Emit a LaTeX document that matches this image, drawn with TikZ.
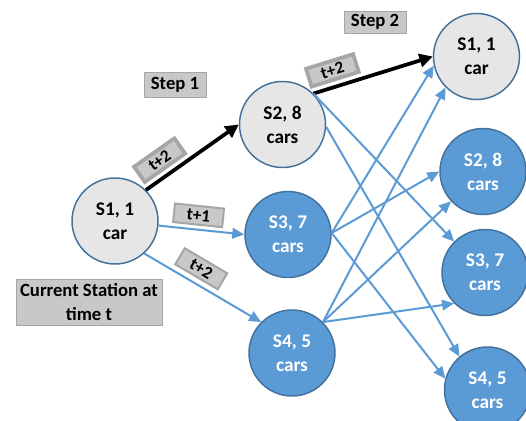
\documentclass[tikz,border=0pt]{standalone}
\usepackage{fontspec}
\setmainfont{Carlito}
\usetikzlibrary{arrows.meta}
\definecolor{stblue}{HTML}{5B9BD5}
\definecolor{strim}{HTML}{41719C}
\definecolor{stgrey}{HTML}{E7E6E6}
\definecolor{tagfill}{HTML}{C8C8C8}
\definecolor{tagrim}{HTML}{A6A6A6}

\begin{document}
\begin{tikzpicture}[x=0.75pt, y=-0.75pt,
    station/.style={circle, draw=strim, line width=1.1pt, minimum size=64.5pt, inner sep=0pt,
        align=center, font=\fontsize{14.5}{18}\selectfont\bfseries},
    idle/.style={station, fill=stgrey, text=black},
    busy/.style={station, fill=stblue, text=white},
    tag/.style={draw=tagrim, fill=tagfill, inner sep=0pt, align=center,
        font=\fontsize{14}{18.5}\selectfont\bfseries},
    hoptag/.style={tag, minimum width=37pt, minimum height=14pt, font=\fontsize{13}{15}\selectfont\bfseries},
    hop/.style={draw=stblue, line width=1.5pt, -{Triangle[length=9pt,width=8pt]}},
    move/.style={draw=black, line width=2.8pt, -{Triangle[length=10pt,width=10pt]}}
]
    \useasboundingbox (0,0) rectangle (526,421);
    \clip (0,0) rectangle (526,421);

    % step 1
    \node[idle] (n1) at (115,221) {S1, 1\\car};
    \node[idle] (n2) at (282.5,124.5) {S2, 8\\cars};
    \node[busy] (n3) at (288,234.5) {S3, 7\\cars};
    \node[busy] (n4) at (292,353) {S4, 5\\cars};

    % step 2
    \node[idle] (m1) at (476.5,56.5) {S1, 1\\car};
    \node[busy] (m2) at (483,171.5) {S2, 8\\cars};
    \node[busy] (m3) at (485,272.5) {S3, 7\\cars};
    \node[busy] (m4) at (487.5,390) {S4, 5\\cars};

    \node[tag, minimum width=46.5pt, minimum height=18.75pt] (step1) at (175,85) {Step 1};
    \node[tag, minimum width=46.5pt, minimum height=16.5pt] (step2) at (375,22) {Step 2};
    \node[tag, minimum width=109.5pt, minimum height=34.5pt] (now) at (89,302) {Current Station at\\time t};

    \draw[move] (n1.45) -- node[hoptag, sloped, above=4pt, pos=.25] {t+2} (n2.180);
    \draw[hop] (n1.-6) -- node[hoptag, sloped, above=3pt, pos=.45] {t+1} (n3.180);
    \draw[hop] (n1.-48) -- node[hoptag, sloped, above=4pt, pos=.42] {t+2} (n4.135);
    \draw[move] (n2.45) -- node[hoptag, sloped, above=4pt, pos=.2] {t+2} (m1.180);

    \draw[hop] (n2.45) -- (m3.135);
    \draw[hop] (n2.-3) -- (m4.130);
    \draw[hop] (n3.2) -- (m1.192);
    \draw[hop] (n3.2) -- (m2.180);
    \draw[hop] (n3.2) -- (m4.165);
    \draw[hop] (n4.45) -- (m1.225);
    \draw[hop] (n4.45) -- (m2.223);
    \draw[hop] (n4.45) -- (m3.225);
\end{tikzpicture}
\end{document}
